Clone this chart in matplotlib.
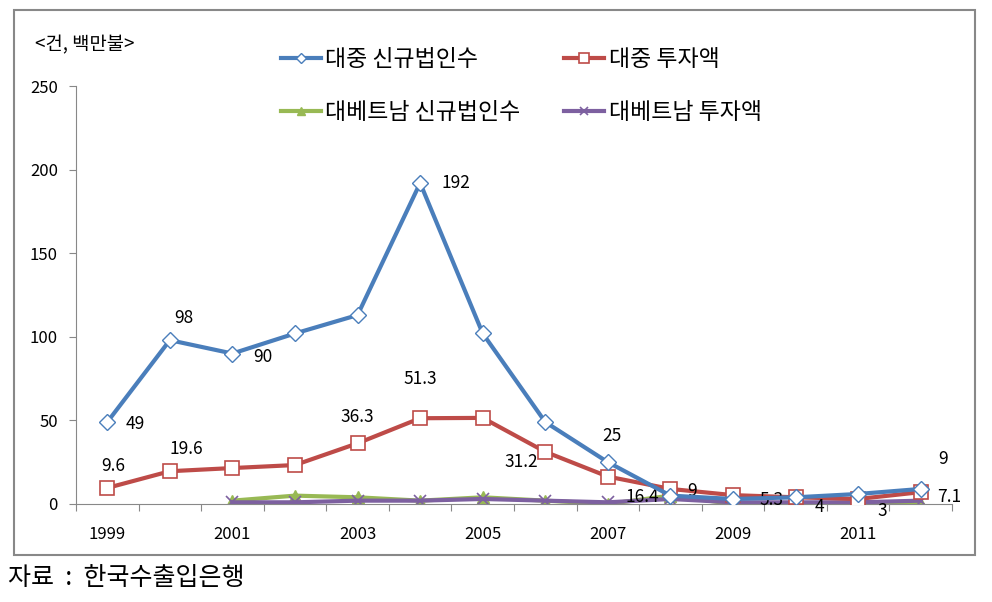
import matplotlib
matplotlib.use("Agg")
import matplotlib.pyplot as plt
from matplotlib.patches import Rectangle

plt.rcParams['font.family'] = ['Noto Sans CJK KR', 'DejaVu Sans']

years = list(range(1999, 2013))
cn_firms = [49, 98, 90, 102, 113, 192, 102, 49, 25, 5, 3, 4, 6, 9]
cn_invest = [9.6, 19.6, 21.5, 23.3, 36.3, 51.3, 51.5, 31.2, 16.4, 9, 5.3, 4, 3, 7.1]
vn_years = list(range(2001, 2013))
vn_firms = [2, 5, 4, 2, 4, 2, 0, 5, 0, 0, 1, 0]
vn_invest = [1, 1, 2, 2, 3, 2, 1, 3, 1, 1, 1, 2]

names = ['대중 신규법인수', '대중 투자액', '대베트남 신규법인수', '대베트남 투자액']
ylabel_text = '<건, 백만불>'
source_text = '자료  :  한국수출입은행'

# data labels: (year, text, offset in pixels)
cn_firm_labels = [(1999, '49', (28, -2)), (2000, '98', (14, 22)), (2001, '90', (30, -3)),
                  (2004, '192', (36, 0)), (2007, '25', (4, 26)), (2012, '9', (22, 30))]
cn_inv_labels = [(1999, '9.6', (6, 22)), (2000, '19.6', (16, 22)), (2003, '36.3', (0, 26)),
                 (2004, '51.3', (0, 39)), (2006, '31.2', (-24, -10)), (2007, '16.4', (34, -20)),
                 (2008, '9', (22, -2)), (2009, '5.3', (38, -5)), (2010, '4', (24, -10)),
                 (2011, '3', (24, -12)), (2012, '7.1', (28, -5))]

fig = plt.figure(figsize=(9.92, 6.02), dpi=100)
ax = fig.add_axes([0.0766, 0.1628, 0.8831, 0.6943])

blue, red, green, purple = '#4A7EBB', '#BE4B48', '#98B954', '#7D60A0'
lw = 3
l1, = ax.plot(years, cn_firms, color=blue, lw=lw, marker='D', ms=8, mfc='white', mec=blue,
              mew=1, label=names[0], zorder=4)
l2, = ax.plot(years, cn_invest, color=red, lw=lw, marker='s', ms=10, mfc='white', mec=red,
              mew=1.2, label=names[1], zorder=3)
l3, = ax.plot(vn_years, vn_firms, color=green, lw=lw, marker='^', ms=9, mfc=green, mec=green,
              label=names[2], zorder=2)
l4, = ax.plot(vn_years, vn_invest, color=purple, lw=lw, marker='x', ms=9, mec=purple,
              mew=1.2, label=names[3], zorder=2)

for yr, txt, off in cn_firm_labels:
    ax.annotate(txt, (yr, cn_firms[years.index(yr)]), textcoords='offset pixels',
                xytext=off, ha='center', va='center', fontsize=12.5)
for yr, txt, off in cn_inv_labels:
    ax.annotate(txt, (yr, cn_invest[years.index(yr)]), textcoords='offset pixels',
                xytext=off, ha='center', va='center', fontsize=12.5)

ax.set_xlim(1998.5, 2012.5)
ax.set_ylim(0, 250)
ax.set_yticks(range(0, 251, 50))
ax.set_xticks([y + 0.5 for y in range(1998, 2013)])
ax.set_xticklabels([])
for yr in years[::2]:
    ax.text(yr, -13, str(yr), ha='center', va='top', fontsize=12)
ax.tick_params(axis='x', direction='out', length=5, color='#888888')
ax.tick_params(axis='y', direction='out', length=5, color='#888888', labelsize=12, pad=8)
for s in ['top', 'right']:
    ax.spines[s].set_visible(False)
for s in ['left', 'bottom']:
    ax.spines[s].set_color('#888888')

leg = fig.legend([l1, l3, l2, l4], [names[0], names[2], names[1], names[3]],
                 loc='upper left', bbox_to_anchor=(0.283, 0.92), ncol=2, frameon=False,
                 fontsize=16.5, handlelength=1.75, markerscale=0.7, handletextpad=0.2,
                 columnspacing=1.9, labelspacing=1.3, borderpad=0, borderaxespad=0)

fig.text(0.035, 0.925, ylabel_text, fontsize=13.5, va='center')
fig.text(0.008, 0.04, source_text, fontsize=18, va='center')
fig.patches.append(Rectangle((0.014, 0.078), 0.969, 0.905, transform=fig.transFigure,
                             fill=False, edgecolor='#888888', lw=1.5))

fig.savefig('out.png', dpi=100)
